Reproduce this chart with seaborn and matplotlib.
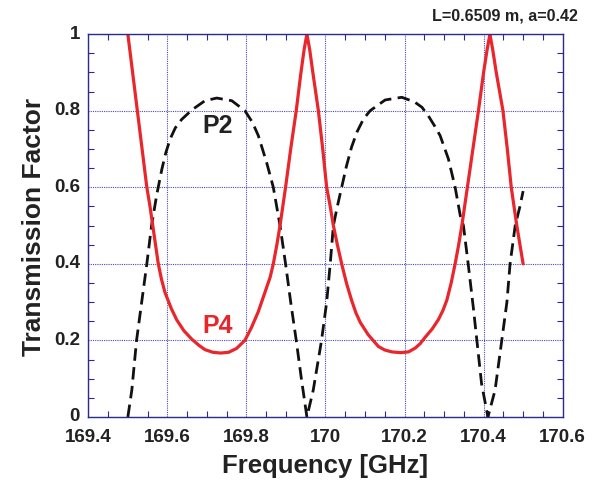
import numpy as np
import pandas as pd
import seaborn as sns
import matplotlib
matplotlib.use("Agg")
import matplotlib.pyplot as plt
import matplotlib.transforms as mtransforms
from matplotlib.ticker import MultipleLocator, FuncFormatter

# P4 curve (red, solid)
freq_p4 = [169.500, 169.512, 169.524, 169.536, 169.548, 169.556, 169.563, 169.570,
           169.577, 169.585, 169.594, 169.610, 169.624, 169.642, 169.662, 169.680,
           169.695, 169.715, 169.735, 169.755, 169.775, 169.796, 169.812, 169.830,
           169.850, 169.860, 169.868, 169.877, 169.885, 169.899, 169.912, 169.926,
           169.938, 169.946, 169.953, 169.960, 169.968, 169.982, 169.993, 170.003,
           170.012, 170.020, 170.030, 170.041, 170.053, 170.066, 170.077, 170.088,
           170.108, 170.134, 170.150, 170.168, 170.190, 170.210, 170.227, 170.240,
           170.252, 170.270, 170.286, 170.297, 170.307, 170.318, 170.328, 170.337,
           170.345, 170.359, 170.373, 170.387, 170.400, 170.409, 170.416, 170.423,
           170.432, 170.449, 170.460, 170.470, 170.484, 170.500]
p4 = [1.00, 0.90, 0.80, 0.70, 0.60, 0.55, 0.50, 0.45,
      0.40, 0.36, 0.325, 0.283, 0.253, 0.225, 0.203, 0.187,
      0.176, 0.169, 0.167, 0.169, 0.179, 0.200, 0.232, 0.275,
      0.335, 0.365, 0.400, 0.450, 0.500, 0.60, 0.70, 0.80,
      0.90, 0.96, 1.00, 0.96, 0.90, 0.80, 0.70, 0.60,
      0.55, 0.50, 0.45, 0.40, 0.35, 0.305, 0.272, 0.247,
      0.215, 0.184, 0.175, 0.170, 0.168, 0.170, 0.180, 0.192,
      0.208, 0.230, 0.255, 0.278, 0.305, 0.350, 0.40, 0.45,
      0.50, 0.60, 0.70, 0.80, 0.90, 0.96, 1.00, 0.96,
      0.90, 0.80, 0.70, 0.60, 0.50, 0.40]

# P2 curve (black, dashed)
freq_p2 = [169.500, 169.510, 169.522, 169.535, 169.548, 169.560, 169.573, 169.586,
           169.596, 169.607, 169.620, 169.636, 169.662, 169.695, 169.725, 169.763,
           169.796, 169.815, 169.830, 169.851, 169.868, 169.885, 169.899, 169.912,
           169.926, 169.939, 169.953, 169.969, 169.990, 170.003, 170.012, 170.020,
           170.030, 170.041, 170.053, 170.066, 170.080, 170.096, 170.113, 170.151,
           170.193, 170.225, 170.244, 170.260, 170.275, 170.290, 170.311, 170.328,
           170.341, 170.349, 170.361, 170.374, 170.383, 170.395, 170.411, 170.429,
           170.446, 170.459, 170.467, 170.480, 170.492, 170.500]
p2 = [0.00, 0.07, 0.20, 0.30, 0.40, 0.50, 0.58, 0.647,
      0.690, 0.726, 0.755, 0.777, 0.802, 0.826, 0.833, 0.826,
      0.800, 0.770, 0.735, 0.665, 0.600, 0.50, 0.40, 0.30,
      0.20, 0.10, 0.00, 0.07, 0.20, 0.30, 0.40, 0.50,
      0.55, 0.60, 0.655, 0.705, 0.745, 0.778, 0.800, 0.828,
      0.835, 0.823, 0.809, 0.787, 0.762, 0.735, 0.674, 0.600,
      0.526, 0.50, 0.40, 0.286, 0.20, 0.086, 0.00, 0.07,
      0.20, 0.30, 0.40, 0.50, 0.55, 0.59]

x_ticks = [169.4, 169.6, 169.8, 170.0, 170.2, 170.4, 170.6]
y_ticks = [0, 0.2, 0.4, 0.6, 0.8, 1.0]

sns.set_theme(style="ticks")
plt.rcParams['font.family'] = ['Liberation Sans', 'DejaVu Sans']
plt.rcParams['font.weight'] = 'bold'

navy = '#2b2b8c'
fig = plt.figure(figsize=(5.94, 4.81), dpi=100)
ax = fig.add_axes([0.1487, 0.131, 0.7985, 0.796])

df4 = pd.DataFrame({'freq': freq_p4, 'val': p4})
df2 = pd.DataFrame({'freq': freq_p2, 'val': p2})
sns.lineplot(data=df2, x='freq', y='val', ax=ax, color='#111111', lw=2.0,
             sort=False, estimator=None)
ax.lines[-1].set_dashes((4.5, 2.3))
sns.lineplot(data=df4, x='freq', y='val', ax=ax, color='#e8262c', lw=2.3,
             sort=False, estimator=None)
for ln in ax.lines:
    ln.set_solid_joinstyle('round')
    ln.set_dash_joinstyle('round')

ax.set_xlim(169.4, 170.6)
ax.set_ylim(0, 1)
ax.set_xticks(x_ticks)
ax.set_yticks(y_ticks)
fmt = FuncFormatter(lambda v, p: f"{v:g}")
ax.xaxis.set_major_formatter(fmt)
ax.yaxis.set_major_formatter(fmt)
ax.xaxis.set_minor_locator(MultipleLocator(0.05))
ax.yaxis.set_minor_locator(MultipleLocator(0.05))
ax.tick_params(which='both', direction='in', top=True, right=True, color=navy)
ax.tick_params(which='major', length=0, labelsize=13.5, labelcolor='#222222')
ax.tick_params(axis='x', which='major', pad=8)
ax.tick_params(axis='y', which='major', pad=6)
ax.tick_params(which='minor', length=4, width=0.8)

# y labels sit a little above their grid lines in the original
shift = mtransforms.ScaledTranslation(0, 3 / 100, fig.dpi_scale_trans)
for lab in ax.get_yticklabels():
    lab.set_transform(lab.get_transform() + shift)
for lab in ax.get_xticklabels() + ax.get_yticklabels():
    lab.set_fontweight('bold')

ax.grid(True, which='major', color='#4a4ab0', linestyle=(0, (1, 1)), linewidth=0.8)
for s in ax.spines.values():
    s.set_color(navy)
    s.set_linewidth(1.0)

ax.set_xlabel('Frequency [GHz]', fontsize=18.5, fontweight='bold', color='#222222', labelpad=6)
ax.set_ylabel('Transmission Factor', fontsize=19, fontweight='bold', color='#222222', labelpad=6)

ax.text(169.728, 0.762, 'P2', fontsize=18, fontweight='bold', color='#222222',
        ha='center', va='center')
ax.text(169.727, 0.240, 'P4', fontsize=18, fontweight='bold', color='#e8262c',
        ha='center', va='center')
fig.text(0.973, 0.967, 'L=0.6509 m, a=0.42', fontsize=11.6, fontweight='bold',
         color='#222222', ha='right', va='center')

fig.savefig('out.png', dpi=100)
